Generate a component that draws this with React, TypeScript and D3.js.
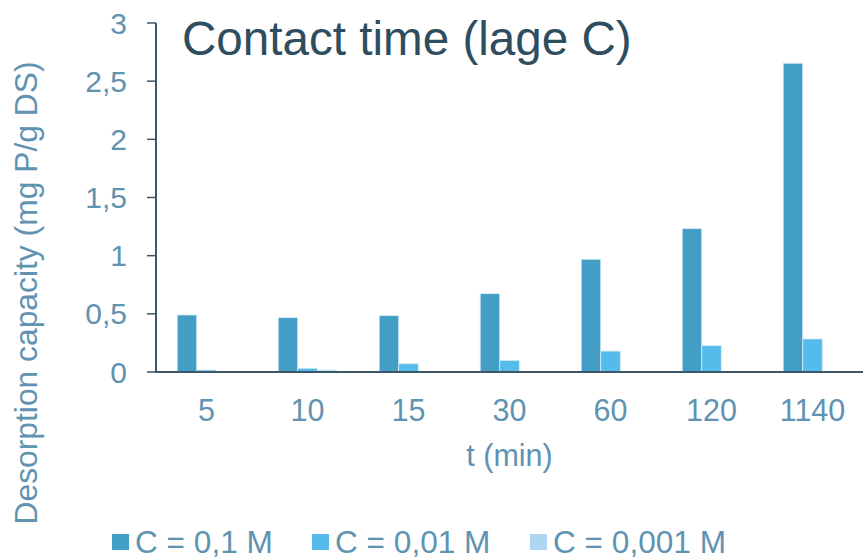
import React from "react";
import * as d3 from "d3";

const categories = ["5", "10", "15", "30", "60", "120", "1140"];
const seriesNames = ["C = 0,1 M", "C = 0,01 M", "C = 0,001 M"];
const c01 = [0.49, 0.467, 0.484, 0.673, 0.969, 1.232, 2.654];
const c001 = [0.017, 0.032, 0.071, 0.1, 0.18, 0.226, 0.284];
const c0001 = [0.003, 0.017, 0.004, 0.003, 0.003, 0.003, 0.003];
const yTicks = [0, 0.5, 1, 1.5, 2, 2.5, 3];
const colors = ["#439ec6", "#55bbea", "#acd6f1"];

const W = 863;
const H = 559;
const left = 156;
const right = 863;
const top = 23;
const bottom = 372;
const textColor = "#5f93b1";
const font = "Liberation Sans, Arial, sans-serif";

export default function App() {
  const series = [c01, c001, c0001];
  const x = d3.scaleBand<string>().domain(categories).range([left, right]).paddingInner(0.42).paddingOuter(0.21);
  const x1 = d3.scaleBand<number>().domain([0, 1, 2]).range([0, x.bandwidth()]);
  const y = d3.scaleLinear().domain([0, 3]).range([bottom, top]);
  const fmt = (v: number) => String(v).replace(".", ",");
  const legendX = [112, 312, 530];

  return (
    <svg width={W} height={H} style={{ position: "absolute", left: 0, top: 0 }} fontFamily={font}>
      <rect width={W} height={H} fill="#fff" />
      {series.map((vals, si) =>
        vals.map((v, ci) => (
          <rect
            key={`${si}-${ci}`}
            x={(x(categories[ci]) as number) + (x1(si) as number)}
            y={y(v)}
            width={x1.bandwidth()}
            height={bottom - y(v)}
            fill={colors[si]}
            stroke="#d6ebf6"
            strokeWidth={0.8}
          />
        ))
      )}
      <line x1={left} x2={left} y1={top} y2={bottom} stroke="#3d5668" strokeWidth={2} />
      <line x1={left} x2={right} y1={bottom} y2={bottom} stroke="#3d5668" strokeWidth={2} />
      {yTicks.map((t) => (
        <g key={t}>
          <line x1={147} x2={left} y1={y(t)} y2={y(t)} stroke="#3d5668" strokeWidth={1.5} />
          <text x={127} y={y(t) + 10.5} textAnchor="end" fontSize={30} fill={textColor}>
            {fmt(t)}
          </text>
        </g>
      ))}
      {categories.map((c) => (
        <text key={c} x={(x(c) as number) + x.bandwidth() / 2} y={421} textAnchor="middle" fontSize={30.5} fill={textColor}>
          {c}
        </text>
      ))}
      <text x={(left + right) / 2} y={466} textAnchor="middle" fontSize={30.5} fill={textColor}>
        t (min)
      </text>
      <text
        transform={`translate(37, 293) rotate(-90)`}
        textAnchor="middle"
        fontSize={31.8}
        fill={textColor}
      >
        Desorption capacity (mg P/g DS)
      </text>
      <text x={182} y={55} fontSize={47.6} fill="#2e4d5f">
        Contact time (lage C)
      </text>
      {seriesNames.map((n, i) => (
        <g key={n}>
          <rect x={legendX[i]} y={534} width={17} height={16} fill={colors[i]} />
          <text x={legendX[i] + 23} y={553} fontSize={31.6} fill={textColor}>
            {n}
          </text>
        </g>
      ))}
    </svg>
  );
}
